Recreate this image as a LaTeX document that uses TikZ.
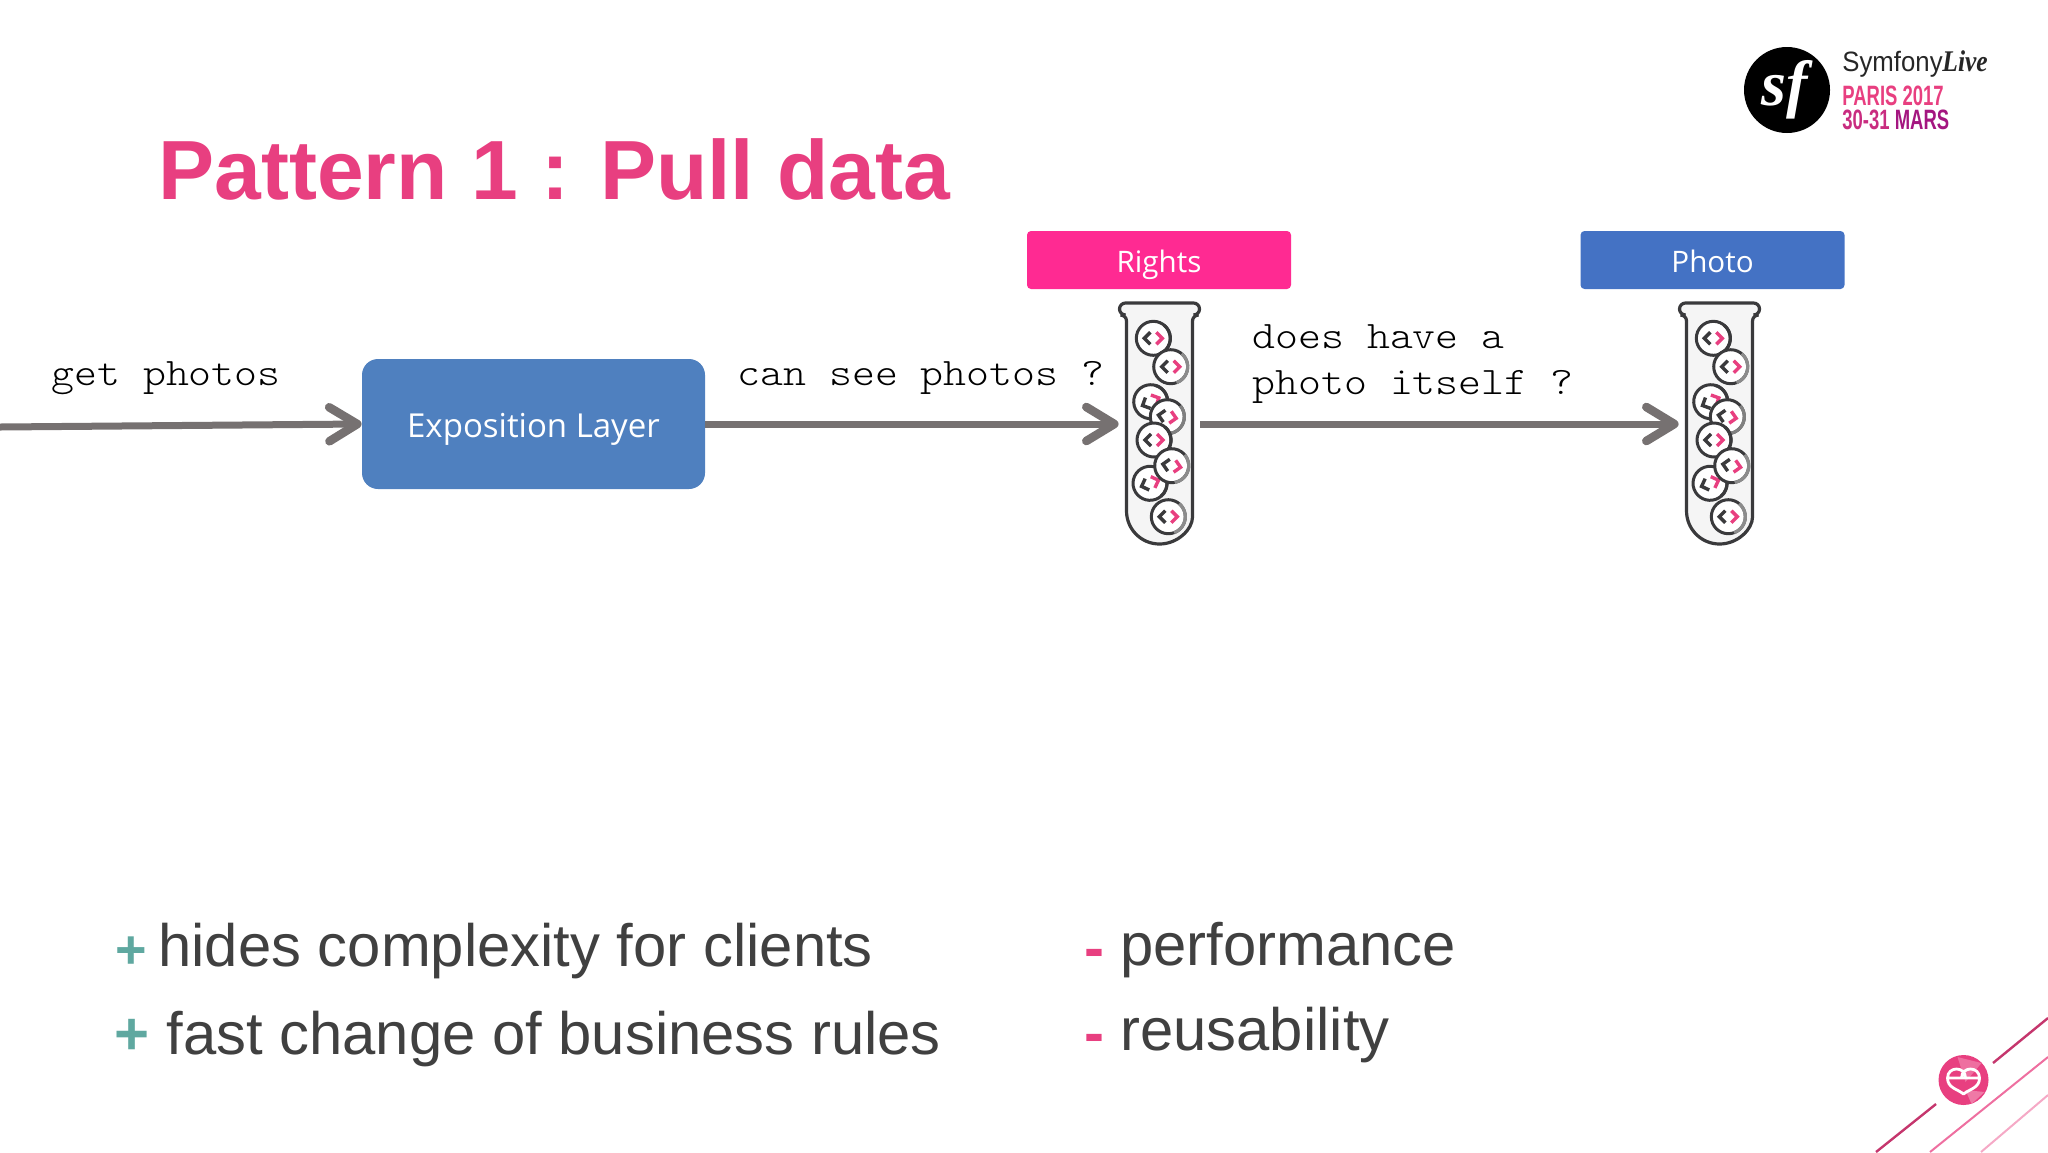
\documentclass[tikz,border=0pt]{standalone}
\usepackage{fontspec}
\setmainfont{Liberation Sans}
\newfontfamily\boxfont{Open Sans}
\newfontfamily\codefont[FakeStretch=1.12]{Latin Modern Mono Light}
\newfontfamily\sffont{Liberation Serif}
\newfontfamily\symfont[FakeStretch=0.92]{Liberation Sans}
\newfontfamily\livefont[FakeStretch=0.85]{Liberation Serif}
\newfontfamily\logofont[FakeStretch=0.66]{Liberation Sans}
\usetikzlibrary{arrows.meta}
\definecolor{titlepink}{HTML}{E83F80}
\definecolor{rightspink}{HTML}{FF2A92}
\definecolor{exposblue}{HTML}{4F80BF}
\definecolor{photoblue}{HTML}{4472C4}
\definecolor{arrowgrey}{HTML}{767171}
\definecolor{bodygrey}{HTML}{404040}
\definecolor{plusgreen}{HTML}{5FA8A0}
\definecolor{tubedark}{HTML}{3A3A3C}
\tikzset{
	flow/.style={line width=3.5pt, color=arrowgrey, -{Straight Barb[round, length=14pt, width=17pt, line width=4.3pt]}},
	label/.style={inner sep=0pt, anchor=base west},
	code/.style={label, font=\codefont\fontsize{19.5}{23}\selectfont, align=left, color=black},
	point/.style={label, font=\fontsize{29.9}{36}\selectfont, color=bodygrey},
	plus/.style={label, font=\bfseries\fontsize{30}{36}\selectfont, color=plusgreen},
	minus/.style={label, font=\bfseries\fontsize{30}{36}\selectfont, color=titlepink},
	tag/.style={rectangle, rounded corners=2pt, minimum width=132pt, minimum height=29pt, inner sep=0pt, text=white, text height=13.5pt, text depth=1.5pt, font=\boxfont\fontsize{14.8}{18}\selectfont},
	spot/.style={minimum width=40.5pt, minimum height=121pt, inner sep=0pt},
	pics/testtube/.style={code={
		\draw[line width=1.6pt, color=tubedark, fill=black!4, rounded corners=3pt] (-33,87) -- (-33,-109) -- (-40,-109) -- (-40,-121) -- (40,-121) -- (40,-109) -- (33,-109) -- (33,87) [sharp corners] arc[start angle=0, end angle=180, radius=33] -- cycle;
		\foreach \cx/\cy/\rot/\fade in {-6.2/-85.7/0/tubedark, 11.2/-57.3/0/black!45, -8.8/-22.3/25/tubedark, 7.8/-7.3/-10/black!50, -5.5/16/0/tubedark, -9.5/59.3/20/tubedark, 12.2/41.7/-10/black!45, 8.8/92.7/0/black!45}{
			\begin{scope}[shift={(\cx,\cy)}, rotate=\rot]
				\draw[line width=1.5pt, color=tubedark, fill=white] (0,0) circle (17);
				\draw[line width=1.6pt, color=\fade] (-50:17) arc[start angle=-50, end angle=70, radius=17];
				\draw[line width=1.7pt, color=tubedark] (-3,-6) -- (-9,0) -- (-3,6);
				\draw[line width=1.7pt, color=titlepink] (3,-6) -- (9,0) -- (3,6);
			\end{scope}
		}
	}}
}

\begin{document}
\begin{tikzpicture}[x=0.5pt, y=-0.5pt]
	%%%%% START %%%%%
	\useasboundingbox (0,0) rectangle (2048,1152);

	\node[label, font=\bfseries\fontsize{42}{50}\selectfont, color=titlepink] (title) at (158,199) {Pattern 1 : Pull data};

	% boxes
	\node[rectangle, rounded corners=8pt, fill=exposblue, minimum width=171.5pt, minimum height=65pt, inner sep=0pt, text=white, text height=16pt, text depth=3pt, font=\boxfont\fontsize{16.5}{20}\selectfont] (expo) at (533.5,424) {Exposition Layer};
	\node[tag, fill=rightspink] (rights) at (1159,260) {Rights};
	\node[tag, fill=photoblue] (photo) at (1712.5,260) {Photo};

	% tubes
	\node[spot] (rightstube) at (1159.5,424) {};
	\node[spot] (phototube) at (1719.5,424) {};
	\pic at (rightstube.center) {testtube};
	\pic at (phototube.center) {testtube};

	% arrows
	\coordinate (start) at (0,427);
	\draw[flow] (start) -- (expo.west);
	\draw[flow] (expo.east) -- (rightstube.west);
	\draw[flow] (rightstube.east) -- (phototube.west);

	\node[code] (getphotos) at (51,385) {get photos};
	\node[code] (cansee) at (737,385) {can see photos ?};
	\node[code] (doeshave) at (1252,394) {does have a\\photo itself ?};

	% bottom lists
	\node[plus, font=\bfseries\fontsize{27}{36}\selectfont] (plusa) at (115,968) {+};
	\node[point] (hides) at (158,966) {hides complexity for clients};
	\node[plus] (plusb) at (114,1054) {+};
	\node[point] (fast) at (166,1054) {fast change of business rules};
	\node[minus] (minusa) at (1084,968) {-};
	\node[point] (perf) at (1120,965) {performance};
	\node[minus] (minusb) at (1084,1053) {-};
	\node[point] (reuse) at (1120,1050) {reusability};

	% conference logo
	\fill[black] (1787,90) circle (43);
	\node[inner sep=0pt, text=white, font=\sffont\itshape\bfseries\fontsize{32}{32}\selectfont] (sf) at (1785,90) {sf};
	\node[label, font=\symfont\fontsize{14}{16}\selectfont, color=black!85] (symfony) at (1842,71) {Symfony};
	\node[label, font=\livefont\itshape\bfseries\fontsize{15}{16}\selectfont, color=black!85] (live) at (1942,71) {Live};
	\node[label, font=\logofont\bfseries\fontsize{14}{16}\selectfont, color=titlepink] (paris) at (1842,105) {PARIS 2017};
	\node[label, font=\logofont\bfseries\fontsize{14}{16}\selectfont, color=titlepink!70!violet] (mars) at (1842,129) {30-31 \textcolor{titlepink!35!violet}{MARS}};

	% corner lines
	\draw[line width=1.2pt, color=titlepink!85!black] (1876,1152) -- (1936,1104);
	\draw[line width=1.2pt, color=titlepink!85!black] (1993,1063) -- (2048,1018);
	\draw[line width=1pt, color=titlepink!75!white] (1930,1152) -- (2048,1057);
	\draw[line width=1pt, color=titlepink!45!white] (1981,1152) -- (2048,1095);

	% heart badge
	\coordinate (badge) at (1963.5,1080);
	\fill[titlepink] (badge) circle (25);
	\begin{scope}[shift={(badge)}]
		\fill[titlepink!75!white] (-6,-23) -- (18,-17) -- (2,2) -- cycle;
		\fill[titlepink!70!white] (2,10) -- (21,12) -- (8,24) -- cycle;
		\draw[line width=1.4pt, color=white, line join=round] (-16,-2) .. controls (-16,-14) and (2,-14) .. (2,-2) -- (-16,-2) .. controls (-16,8) and (-6,9) .. (0,14) .. controls (6,9) and (16,8) .. (16,-2) .. controls (16,-14) and (-2,-14) .. (-2,-2) -- (16,-2);
	\end{scope}
	%%%%% END %%%%%
\end{tikzpicture}
\end{document}
